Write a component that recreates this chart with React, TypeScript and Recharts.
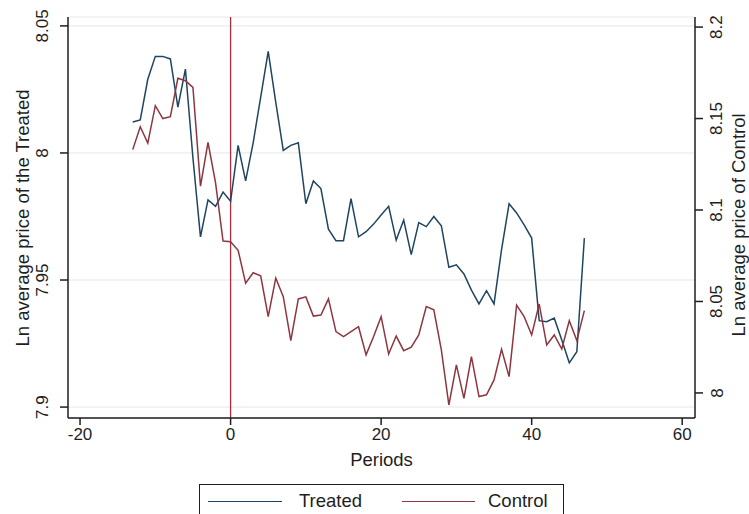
import React from "react";
import {
  ComposedChart,
  Line,
  XAxis,
  YAxis,
  CartesianGrid,
  ReferenceLine,
} from "recharts";

// periods relative to treatment
const periods = [
  -13, -12, -11, -10, -9, -8, -7, -6, -5, -4, -3, -2, -1, 0, 1, 2, 3, 4, 5, 6,
  7, 8, 9, 10, 11, 12, 13, 14, 15, 16, 17, 18, 19, 20, 21, 22, 23, 24, 25, 26,
  27, 28, 29, 30, 31, 32, 33, 34, 35, 36, 37, 38, 39, 40, 41, 42, 43, 44, 45,
  46, 47,
];

// ln average price, treated group (left axis)
const treated = [
  8.0122, 8.013, 8.029, 8.038, 8.038, 8.037, 8.018, 8.033, 7.998, 7.967,
  7.9815, 7.979, 7.9846, 7.981, 8.003, 7.989, 8.004, 8.022, 8.04, 8.02, 8.001,
  8.003, 8.004, 7.98, 7.989, 7.986, 7.97, 7.9655, 7.9655, 7.982, 7.967, 7.969,
  7.972, 7.9756, 7.979, 7.9657, 7.9736, 7.96, 7.9726, 7.971, 7.975, 7.9713,
  7.955, 7.956, 7.9524, 7.946, 7.9406, 7.9458, 7.9406, 7.962, 7.98, 7.9764,
  7.9717, 7.9665, 7.934, 7.9336, 7.935, 7.9264, 7.9174, 7.9218, 7.9665,
];

// ln average price, control group (right axis)
const control = [
  8.133, 8.1455, 8.1366, 8.157, 8.15, 8.151, 8.172, 8.1707, 8.167, 8.113,
  8.137, 8.115, 8.083, 8.0827, 8.078, 8.06, 8.0657, 8.064, 8.0417, 8.0628,
  8.0526, 8.0286, 8.0514, 8.0525, 8.042, 8.0426, 8.0514, 8.0335, 8.0308,
  8.0335, 8.0362, 8.0208, 8.0308, 8.0417, 8.0213, 8.0311, 8.0231, 8.025,
  8.0317, 8.0472, 8.0454, 8.0235, 7.9934, 8.0153, 7.997, 8.0198, 7.998, 7.999,
  8.0071, 8.0239, 8.0089, 8.048, 8.0417, 8.0317, 8.0486, 8.0262, 8.0317,
  8.024, 8.0395, 8.0286, 8.045,
];

const xTicks = [-20, 0, 20, 40, 60];
const leftTicks = [7.9, 7.95, 8, 8.05];
const rightTicks = [8, 8.05, 8.1, 8.15, 8.2];

const TREATED = "#1f4560";
const CONTROL = "#8e3640";
const AXIS = "#1e1e1e";
const FONT = "'Liberation Sans', Arial, sans-serif";

const data = periods.map((p, i) => ({
  period: p,
  treated: treated[i],
  control: control[i],
}));

function VTick({ y, payload, cx }: any) {
  return (
    <text
      x={cx}
      y={y}
      transform={`rotate(-90 ${cx} ${y})`}
      textAnchor="middle"
      dominantBaseline="central"
      fontSize={17}
      fontFamily={FONT}
      fill={AXIS}
    >
      {String(payload.value)}
    </text>
  );
}

function VTitle({ cx, cy, text }: { cx: number; cy: number; text: string }) {
  return (
    <text
      x={cx}
      y={cy}
      transform={`rotate(-90 ${cx} ${cy})`}
      textAnchor="middle"
      dominantBaseline="central"
      fontSize={18.5}
      fontFamily={FONT}
      fill={AXIS}
    >
      {text}
    </text>
  );
}

export default function App() {
  return (
    <div
      style={{
        position: "fixed",
        left: 0,
        top: 0,
        width: 749,
        height: 514,
        overflow: "hidden",
        background: "#fff",
        fontFamily: FONT,
      }}
    >
      <ComposedChart
        width={749}
        height={514}
        data={data}
        margin={{ top: 17, right: 0, left: 0, bottom: 48 }}
      >
        <CartesianGrid
          yAxisId="left"
          vertical={false}
          stroke="#e6e6e6"
          strokeWidth={1}
        />
        <XAxis
          dataKey="period"
          type="number"
          domain={[-21.6, 61.7]}
          allowDataOverflow
          ticks={xTicks}
          height={48}
          tickSize={7}
          tickMargin={3}
          stroke={AXIS}
          strokeWidth={1.5}
          tick={{ fontSize: 17, fontFamily: FONT, fill: AXIS }}
          label={{
            value: "Periods",
            position: "insideBottom",
            offset: 0,
            fontSize: 18.5,
            fontFamily: FONT,
            fill: AXIS,
          }}
        />
        <YAxis
          yAxisId="left"
          domain={[7.8957, 8.0535]}
          allowDataOverflow
          ticks={leftTicks}
          width={68}
          tickSize={8}
          stroke={AXIS}
          strokeWidth={1.5}
          tick={(p: any) => <VTick {...p} cx={43} />}
          label={{
            content: () => (
              <VTitle cx={22} cy={218} text="Ln average price of the Treated" />
            ),
          }}
        />
        <YAxis
          yAxisId="right"
          orientation="right"
          domain={[7.9863, 8.2055]}
          allowDataOverflow
          ticks={rightTicks}
          width={54}
          tickSize={8}
          stroke={AXIS}
          strokeWidth={1.5}
          tick={(p: any) => <VTick {...p} cx={717} />}
          label={{
            content: () => (
              <VTitle cx={738} cy={225} text="Ln average price of Control" />
            ),
          }}
        />
        <ReferenceLine
          yAxisId="left"
          x={0}
          stroke="#a3303f"
          strokeWidth={1.3}
        />
        <Line
          yAxisId="left"
          type="linear"
          dataKey="treated"
          stroke={TREATED}
          strokeWidth={1.5}
          dot={false}
          isAnimationActive={false}
        />
        <Line
          yAxisId="right"
          type="linear"
          dataKey="control"
          stroke={CONTROL}
          strokeWidth={1.5}
          dot={false}
          isAnimationActive={false}
        />
      </ComposedChart>

      {/* legend */}
      <div
        style={{
          position: "absolute",
          left: 199,
          top: 484,
          width: 365,
          height: 40,
          border: `1.5px solid ${AXIS}`,
          boxSizing: "border-box",
          fontSize: 18.5,
          color: AXIS,
        }}
      >
        <div
          style={{
            position: "absolute",
            left: 8,
            top: 16,
            width: 74,
            height: 0,
            borderTop: `1.5px solid ${TREATED}`,
          }}
        />
        <span style={{ position: "absolute", left: 99, top: 5 }}>Treated</span>
        <div
          style={{
            position: "absolute",
            left: 202,
            top: 16,
            width: 73,
            height: 0,
            borderTop: `1.5px solid ${CONTROL}`,
          }}
        />
        <span style={{ position: "absolute", left: 288, top: 5 }}>Control</span>
      </div>
    </div>
  );
}
